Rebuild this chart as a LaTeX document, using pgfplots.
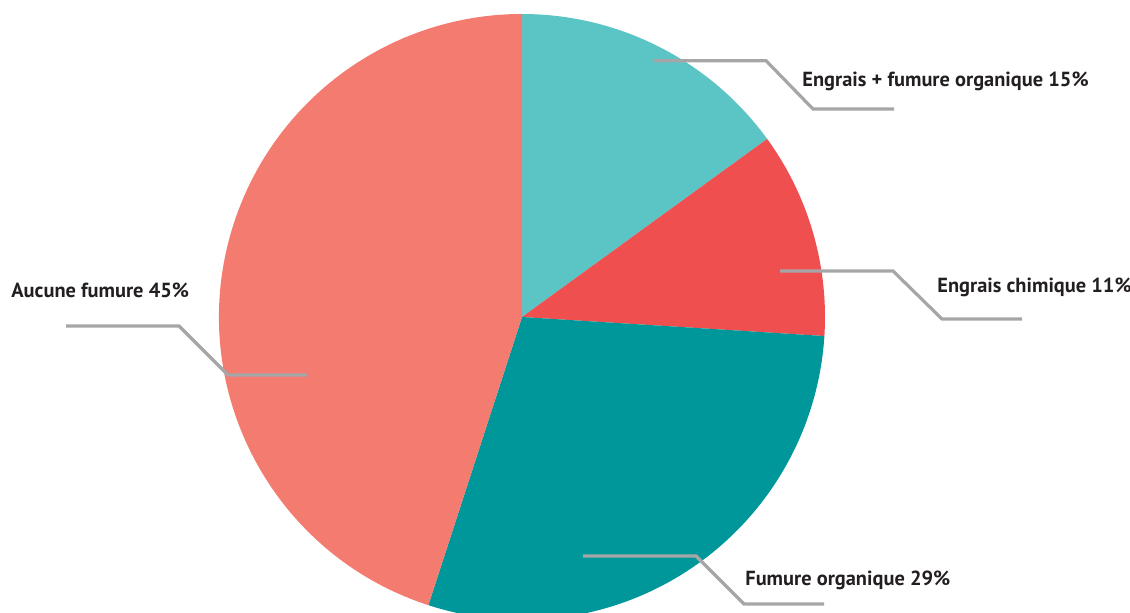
\documentclass[border=0pt]{standalone}
\usepackage{fontspec}
\setmainfont{PT Sans}[BoldFont={PT Sans Bold}]
\usepackage{pgfplots}
\usepackage{pgfplotstable}
\pgfplotsset{compat=1.18}

\definecolor{cA}{HTML}{5BC5C6}
\definecolor{cB}{HTML}{EF4F4F}
\definecolor{cC}{HTML}{00979A}
\definecolor{cD}{HTML}{F37B70}
\definecolor{leader}{HTML}{A6A6A8}
\definecolor{txt}{HTML}{231F20}

% shares, clockwise from 12 o'clock
\pgfplotstableread[col sep=comma]{
label,pct,col
Engrais + fumure organique,15,cA
Engrais chimique,11,cB
Fumure organique,29,cC
Aucune fumure,45,cD
}\piedata

\tikzset{lbl/.style={anchor=base west, inner sep=0pt, text=txt,
    font=\fontsize{10.2}{12}\selectfont\bfseries}}

\begin{document}
\begin{tikzpicture}
\begin{axis}[
    x=0.5pt, y=0.5pt,
    xmin=0, xmax=1130, ymin=0, ymax=612,
    hide axis, clip=true,
]
\pgfplotsextra{
  \gdef\startang{90}
  \pgfplotstableforeachcolumnelement{pct}\of\piedata\as\p{%
    \pgfplotstablegetelem{\pgfplotstablerow}{col}\of\piedata
    \let\slicecol\pgfplotsretval
    \pgfmathsetmacro\endang{\startang-3.6*\p}
    \fill[\slicecol] (axis cs:522,295) -- ++(\startang:151.5pt)
      arc[start angle=\startang, end angle=\endang, radius=151.5pt] -- cycle;
    \xdef\startang{\endang}
  }
}
% leader lines
\addplot[leader, line width=1.6pt, no marks] coordinates {(653,551.3) (766,551.3) (813,503) (894,503)};
\addplot[leader, line width=1.6pt, no marks] coordinates {(780,341) (893,341) (942,293) (1022,293)};
\addplot[leader, line width=1.6pt, no marks] coordinates {(307,237) (228,237) (179,286) (66,286)};
\addplot[leader, line width=1.6pt, no marks] coordinates {(583,56) (696,56) (744,8) (824,8)};
% labels
\node[lbl] at (axis cs:802,525.5) {Engrais + fumure organique 15\%};
\node[lbl] at (axis cs:937,320) {Engrais chimique 11\%};
\node[lbl] at (axis cs:11,315) {Aucune fumure 45\%};
\node[lbl] at (axis cs:745,27) {Fumure organique 29\%};
\end{axis}
\pgfresetboundingbox
\useasboundingbox (current axis.south west) rectangle (current axis.north east);
\end{tikzpicture}
\end{document}
